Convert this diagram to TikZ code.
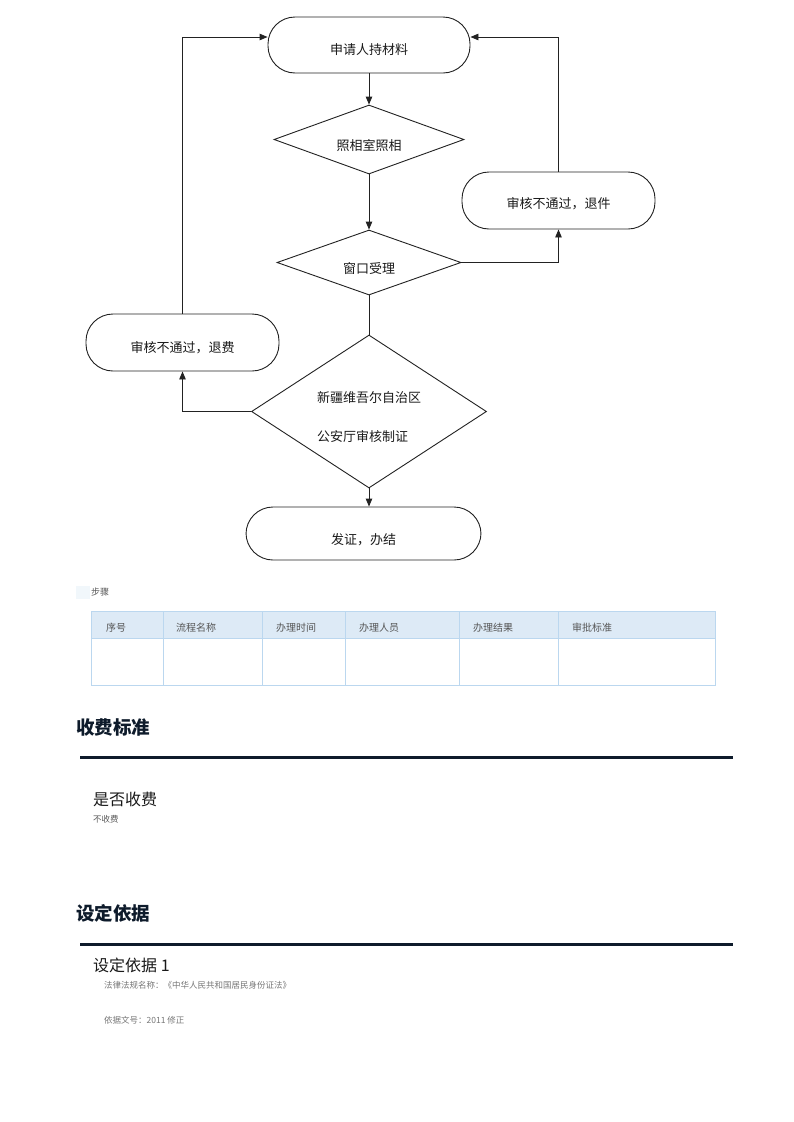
\documentclass[tikz,border=0pt]{standalone}
\usepackage{fontspec}
\setmainfont{Noto Sans CJK SC}
\usetikzlibrary{shapes.geometric,arrows.meta,calc}
\definecolor{flowline}{HTML}{222222}
\definecolor{flowtxt}{HTML}{1A1A1A}
\definecolor{tabfill}{HTML}{DDEAF6}
\definecolor{tabline}{HTML}{BBD7EF}
\definecolor{tabtxt}{HTML}{555555}
\definecolor{headc}{HTML}{0E1B2B}
\definecolor{graytxt}{HTML}{777777}
\tikzset{
  flowtext/.style={font=\fontsize{13}{15}\selectfont, text=flowtxt},
  stadium/.style={draw=flowline, line width=0.9pt, rectangle, rounded corners=27pt, inner sep=0pt},
  decision/.style={draw=flowline, line width=0.9pt, diamond, inner sep=0pt},
  arr/.style={draw=flowline, line width=0.9pt, -{Triangle[length=8pt,width=6.5pt]}},
  plainline/.style={draw=flowline, line width=0.9pt},
  tabhead/.style={font=\fontsize{10}{12}\selectfont, text=tabtxt, anchor=west, inner sep=0pt},
  heading/.style={font=\fontsize{18.5}{20}\selectfont\bfseries, text=headc, anchor=west, inner sep=0pt},
  subhead/.style={font=\fontsize{16}{18}\selectfont, text=black!90, anchor=west, inner sep=0pt},
  smalltxt/.style={font=\fontsize{8.5}{10}\selectfont, text=graytxt, anchor=west, inner sep=0pt},
  rulestyle/.style={draw=headc, line width=3pt}
}
\begin{document}
\begin{tikzpicture}[x=1pt,y=-1pt]
\useasboundingbox[fill=white] (0,0) rectangle (793,1122);

% ---------- flowchart ----------
\node[stadium, minimum width=202pt, minimum height=56pt,
      label={[flowtext,yshift=-5pt]center:申请人持材料}] (s1) at (369,45) {};
\node[decision, minimum width=190pt, minimum height=69pt,
      label={[flowtext,yshift=-6pt]center:照相室照相}] (d1) at (369,139.5) {};
\node[decision, minimum width=184pt, minimum height=65pt,
      label={[flowtext,yshift=-6pt]center:窗口受理}] (d2) at (369,262.5) {};
\node[stadium, minimum width=193pt, minimum height=57pt,
      label={[flowtext,yshift=-3pt]center:审核不通过，退件}] (r1) at (558.5,200.5) {};
\node[stadium, minimum width=193pt, minimum height=57pt,
      label={[flowtext,yshift=-5pt]center:审核不通过，退费}] (r2) at (182.5,342.5) {};
\node[decision, minimum width=235pt, minimum height=153pt,
      label={[flowtext,yshift=-6pt,align=left,font=\fontsize{13}{39}\selectfont]center:新疆维吾尔自治区\\公安厅审核制证}] (d3) at (369,411.5) {};
\node[stadium, minimum width=235pt, minimum height=53pt,
      label={[flowtext,yshift=-6pt]center:发证，办结}] (s4) at (363.5,533.5) {};

\draw[arr] (s1.south) -- (d1.north);
\draw[arr] (d1.south) -- (d2.north);
\draw[arr] (d2.east) -| (r1.south);
\draw[arr] (r1.north) |- ([yshift=8pt]s1.east);
\draw[plainline] (d2.south) -- (d3.north);
\draw[arr] (d3.west) -| (r2.south);
\draw[arr] (r2.north) |- ([yshift=8pt]s1.west);
\draw[arr] (d3.south) -- (d3.south |- s4.north);

% ---------- steps table ----------
\fill[tabfill!40] (76,586) rectangle (90,599);
\node[tabhead, font=\fontsize{9}{11}\selectfont] (steps) at (91,592.5) {步骤};
\fill[tabfill] (91,611) rectangle (715,638);
\draw[tabline, line width=1pt] (91,611) rectangle (715,685);
\draw[tabline, line width=1pt] (91,638) -- (715,638);
\foreach \cx in {163,262,345,459,558} {
  \draw[tabline, line width=1pt] (\cx,611) -- (\cx,685);
}
\node[tabhead] (h1) at (106,627.5) {序号};
\node[tabhead] (h2) at (176,627.5) {流程名称};
\node[tabhead] (h3) at (276,627.5) {办理时间};
\node[tabhead] (h4) at (359,627.5) {办理人员};
\node[tabhead] (h5) at (473,627.5) {办理结果};
\node[tabhead] (h6) at (572,627.5) {审批标准};

% ---------- fee section ----------
\node[heading] (fee) at (76,727) {收费标准};
\draw[rulestyle] (80,757) -- (733,757);
\node[subhead] (feeq) at (93,799) {是否收费};
\node[smalltxt, text=black!65] (feea) at (93,819) {不收费};

% ---------- basis section ----------
\node[heading] (basis) at (76,913) {设定依据};
\draw[rulestyle] (80,944) -- (733,944);
\node[subhead] (basis1) at (93,965) {设定依据 1};
\node[smalltxt] (law) at (104,985) {法律法规名称：《中华人民共和国居民身份证法》};
\node[smalltxt] (docno) at (104,1020) {依据文号：2011 修正};
\end{tikzpicture}
\end{document}
